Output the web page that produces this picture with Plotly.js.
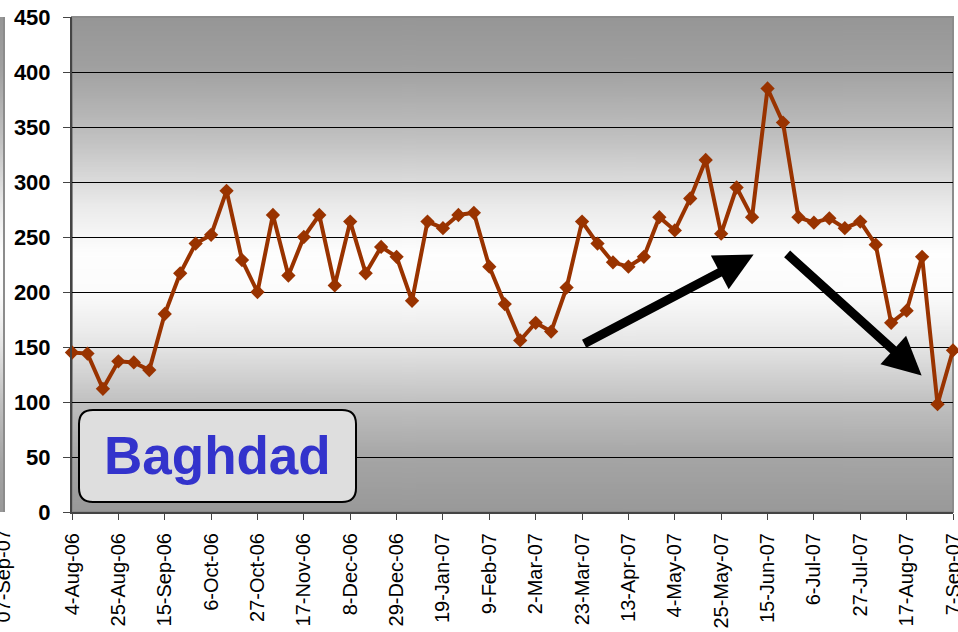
<!DOCTYPE html>
<html>
<head>
<meta charset="utf-8">
<script src="https://cdn.plot.ly/plotly-3.0.1.min.js"></script>
<style>
  html, body { margin: 0; padding: 0; background: #ffffff; }
  #chart { width: 958px; height: 632px; }
</style>
</head>
<body>
<div id="chart"></div>
<script>
// ---- data ----
var weeks = [
  "4-Aug-06","11-Aug-06","18-Aug-06","25-Aug-06","1-Sep-06","8-Sep-06","15-Sep-06","22-Sep-06","29-Sep-06",
  "6-Oct-06","13-Oct-06","20-Oct-06","27-Oct-06","3-Nov-06","10-Nov-06","17-Nov-06","24-Nov-06",
  "1-Dec-06","8-Dec-06","15-Dec-06","22-Dec-06","29-Dec-06","5-Jan-07","12-Jan-07","19-Jan-07","26-Jan-07",
  "2-Feb-07","9-Feb-07","16-Feb-07","23-Feb-07","2-Mar-07","9-Mar-07","16-Mar-07","23-Mar-07","30-Mar-07",
  "6-Apr-07","13-Apr-07","20-Apr-07","27-Apr-07","4-May-07","11-May-07","18-May-07","25-May-07",
  "1-Jun-07","8-Jun-07","15-Jun-07","22-Jun-07","29-Jun-07","6-Jul-07","13-Jul-07","20-Jul-07","27-Jul-07",
  "3-Aug-07","10-Aug-07","17-Aug-07","24-Aug-07","31-Aug-07","7-Sep-07"
];
var attacks = [
  145, 144, 112, 137, 136, 129, 180, 217, 244, 252,
  292, 229, 200, 270, 215, 250, 270, 206, 264, 217,
  241, 232, 192, 264, 258, 270, 272, 223, 189, 156,
  172, 164, 204, 264, 244, 227, 223, 232, 268, 256,
  285, 320, 253, 295, 268, 385, 354, 268, 263, 267,
  258, 264, 243, 172, 183, 232, 98, 147
];
var tickLabels = [
  "4-Aug-06","25-Aug-06","15-Sep-06","6-Oct-06","27-Oct-06","17-Nov-06","8-Dec-06","29-Dec-06",
  "19-Jan-07","9-Feb-07","2-Mar-07","23-Mar-07","13-Apr-07","4-May-07","25-May-07","15-Jun-07",
  "6-Jul-07","27-Jul-07","17-Aug-07","7-Sep-07"
];
var yTicks = [0, 50, 100, 150, 200, 250, 300, 350, 400, 450];
var boxLabel = "Baghdad";

// ---- layout geometry ----
var M = {l: 72, r: 5, t: 17, b: 120};
var W = 958, H = 632;
var PW = W - M.l - M.r, PH = H - M.t - M.b;
function px(x) { return (x - M.l) / PW; }
function py(y) { return (H - M.b - y) / PH; }

// background gradient (dark - light - dark), drawn on a canvas
var cv = document.createElement('canvas');
cv.width = 4; cv.height = 400;
var ctx = cv.getContext('2d');
var g = ctx.createLinearGradient(0, 0, 0, 400);
g.addColorStop(0.00, '#969696');
g.addColorStop(0.10, '#a0a0a0');
g.addColorStop(0.25, '#c2c2c2');
g.addColorStop(0.38, '#eaeaea');
g.addColorStop(0.48, '#fefefe');
g.addColorStop(0.56, '#fbfbfb');
g.addColorStop(0.66, '#e6e6e6');
g.addColorStop(0.78, '#c0c0c0');
g.addColorStop(0.90, '#a4a4a4');
g.addColorStop(1.00, '#999999');
ctx.fillStyle = g;
ctx.fillRect(0, 0, 4, 400);
var bgURL = cv.toDataURL('image/png');

// rounded label box path in paper coords
function roundRect(x0, y0, x1, y1, r) {
  var rx = r / PW, ry = r / PH;
  var L = px(x0), R = px(x1), T = py(y0), B = py(y1);
  return 'M' + (L + rx) + ',' + T +
    ' L' + (R - rx) + ',' + T + ' Q' + R + ',' + T + ' ' + R + ',' + (T - ry) +
    ' L' + R + ',' + (B + ry) + ' Q' + R + ',' + B + ' ' + (R - rx) + ',' + B +
    ' L' + (L + rx) + ',' + B + ' Q' + L + ',' + B + ' ' + L + ',' + (B + ry) +
    ' L' + L + ',' + (T - ry) + ' Q' + L + ',' + T + ' ' + (L + rx) + ',' + T + ' Z';
}

var trace = {
  type: 'scatter',
  mode: 'lines+markers',
  x: weeks,
  y: attacks,
  line: {color: '#993300', width: 4},
  marker: {symbol: 'diamond', size: 11, color: '#993300'},
  cliponaxis: false,
  hoverinfo: 'x+y'
};

var layout = {
  width: W, height: H,
  margin: M,
  paper_bgcolor: '#ffffff',
  plot_bgcolor: 'rgba(0,0,0,0)',
  showlegend: false,
  font: {family: 'Arial, "Liberation Sans", sans-serif', color: '#000000'},
  xaxis: {
    type: 'category',
    categoryorder: 'array',
    categoryarray: weeks,
    range: [0, 57],
    tickmode: 'array',
    tickvals: tickLabels,
    ticktext: tickLabels,
    tickangle: -90,
    tickfont: {size: 20, family: 'Arial, "Liberation Sans", sans-serif', color: '#000'},
    ticks: 'outside', ticklen: 6, tickwidth: 1, tickcolor: '#444',
    showline: true, linecolor: '#444', linewidth: 2,
    showgrid: false, zeroline: false,
    ticklabelstandoff: 5
  },
  yaxis: {
    range: [0, 450],
    tickmode: 'array',
    tickvals: yTicks,
    ticktext: yTicks.map(String),
    tickfont: {size: 22, family: 'Arial, "Liberation Sans", sans-serif', color: '#000', weight: 'bold'},
    ticks: 'outside', ticklen: 7, tickwidth: 1, tickcolor: '#444',
    showline: true, linecolor: '#444', linewidth: 2,
    showgrid: true, gridcolor: '#000000', gridwidth: 1,
    zeroline: false,
    ticklabelstandoff: 8
  },
  images: [{
    source: bgURL, xref: 'paper', yref: 'paper',
    x: 0, y: 1, sizex: 1, sizey: 1, xanchor: 'left', yanchor: 'top',
    sizing: 'stretch', layer: 'below'
  }, {
    source: bgURL, xref: 'paper', yref: 'paper',
    x: px(0), y: 1, sizex: px(4) - px(0), sizey: 1, xanchor: 'left', yanchor: 'top',
    sizing: 'stretch', layer: 'below'
  }],
  shapes: [
    {type: 'rect', xref: 'paper', yref: 'paper', x0: 0, x1: 1, y0: 0, y1: 1,
     line: {color: '#8c8c8c', width: 2}, fillcolor: 'rgba(0,0,0,0)', layer: 'below'},
    {type: 'line', xref: 'paper', yref: 'paper', x0: px(4), x1: px(4), y0: 0, y1: 1,
     line: {color: '#8c8c8c', width: 2}},
    {type: 'path', xref: 'paper', yref: 'paper', path: roundRect(79, 410, 356, 502, 14),
     fillcolor: '#dedede', line: {color: '#000000', width: 2}, layer: 'above'}
  ],
  annotations: [
    {xref: 'paper', yref: 'paper', x: px(217.5), y: py(456), text: '<b>' + boxLabel + '</b>',
     showarrow: false, xanchor: 'center', yanchor: 'middle',
     font: {size: 53, color: '#3333cc', family: 'Arial, "Liberation Sans", sans-serif'}},
    {xref: 'x', yref: 'y', x: 44.1, y: 234, ax: -171, ay: 90, axref: 'pixel', ayref: 'pixel',
     text: '', showarrow: true, arrowhead: 2, arrowsize: 0.85, arrowwidth: 9, arrowcolor: '#000000', standoff: 0},
    {xref: 'x', yref: 'y', x: 54.97, y: 124, ax: -136, ay: -123, axref: 'pixel', ayref: 'pixel',
     text: '', showarrow: true, arrowhead: 2, arrowsize: 0.85, arrowwidth: 9, arrowcolor: '#000000', standoff: 0},
    {xref: 'paper', yref: 'paper', x: px(2), y: py(528), text: '07-Sep-07', textangle: -90,
     showarrow: false, xanchor: 'center', yanchor: 'top',
     font: {size: 20, family: 'Arial, "Liberation Sans", sans-serif', color: '#000'}}
  ]
};

Plotly.newPlot('chart', [trace], layout, {displayModeBar: false, staticPlot: true});
</script>
</body>
</html>
